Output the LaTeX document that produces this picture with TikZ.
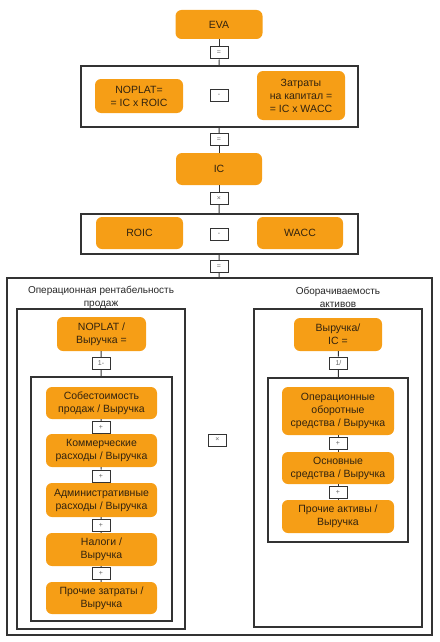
\documentclass[tikz,border=0pt]{standalone}
\usepackage{fontspec}
\setmainfont{Liberation Sans}
\definecolor{evaor}{RGB}{246,158,22}
\definecolor{evatx}{RGB}{50,35,15}
\begin{document}
\begin{tikzpicture}[x=1pt,y=-1pt,obox/.style={rectangle, rounded corners=6pt, fill=evaor, text=evatx, align=center, inner sep=0pt, font=\fontsize{10.5}{13}\selectfont},opb/.style={rectangle, draw=black!80, fill=white, line width=1pt, minimum width=18pt, minimum height=12pt, inner sep=0pt, text=black!60, font=\fontsize{7}{7}\selectfont},frm/.style={rectangle, draw=black!80, line width=1.2pt, inner sep=0pt},ttl/.style={align=center, text=black!85, font=\fontsize{10}{12.5}\selectfont}]
  \useasboundingbox (0,0) rectangle (439,642);

  % top chain
  \node[obox, minimum width=87pt, minimum height=29pt] (eva) at (219,24.5) {EVA};
  \node[opb] (eq1) at (219,53) {=};
  \node[frm, minimum width=277pt, minimum height=61pt] (fr1) at (219.5,96.5) {};
  \node[obox, minimum width=88pt, minimum height=34pt] (noplat) at (139,96) {NOPLAT=\\= IC x ROIC};
  \node[opb] (mi1) at (219,95.5) {-};
  \node[obox, minimum width=88pt, minimum height=49pt] (cost) at (301,95.5) {Затраты\\на капитал =\\= IC x WACC};
  \node[opb] (eq2) at (219,139.5) {=};
  \node[obox, minimum width=86pt, minimum height=32pt] (ic) at (219,169) {IC};
  \node[opb] (ti1) at (219,198.5) {×};
  \node[frm, minimum width=277pt, minimum height=40pt] (fr2) at (219.5,234) {};
  \node[obox, minimum width=87pt, minimum height=32pt] (roic) at (139.5,233) {ROIC};
  \node[opb] (mi2) at (219,234) {-};
  \node[obox, minimum width=86pt, minimum height=32pt] (wacc) at (300,233) {WACC};
  \node[opb] (eq3) at (219,266.5) {=};
  \node[frm, minimum width=425pt, minimum height=357pt] (outer) at (219.5,456.5) {};

  % left column
  \node[ttl] (ltitle) at (101,297.5) {Операционная рентабельность\\продаж};
  \node[frm, minimum width=168pt, minimum height=320pt] (lfr) at (101,469) {};
  \node[obox, minimum width=89pt, minimum height=34pt] (ros) at (101.5,334) {NOPLAT /\\Выручка =};
  \node[opb] (onem) at (101,363.5) {1-};
  \node[frm, minimum width=141pt, minimum height=244pt] (lin) at (101.5,499) {};
  \node[obox, minimum width=111pt, minimum height=32pt] (c1) at (101.5,403) {Собестоимость\\продаж / Выручка};
  \node[opb] (p1) at (101,427.5) {+};
  \node[obox, minimum width=111pt, minimum height=33pt] (c2) at (101.5,450.5) {Коммерческие\\расходы / Выручка};
  \node[opb] (p2) at (101,476) {+};
  \node[obox, minimum width=111pt, minimum height=34pt] (c3) at (101.5,500) {Административные\\расходы / Выручка};
  \node[opb] (p3) at (101,525.5) {+};
  \node[obox, minimum width=111pt, minimum height=33pt] (c4) at (101.5,549.5) {Налоги /\\Выручка};
  \node[opb] (p4) at (101,573.5) {+};
  \node[obox, minimum width=111pt, minimum height=32pt] (c5) at (101.5,598) {Прочие затраты /\\Выручка};

  \node[opb] (ti2) at (217.5,440) {×};

  % right column
  \node[ttl] (rtitle) at (338,297.5) {Оборачиваемость\\активов};
  \node[frm, minimum width=168pt, minimum height=318pt] (rfr) at (338,468) {};
  \node[obox, minimum width=88pt, minimum height=33pt] (turn) at (338,334.5) {Выручка/\\IC =};
  \node[opb] (oneo) at (338.5,363) {1/};
  \node[frm, minimum width=140pt, minimum height=164pt] (rin) at (338,460) {};
  \node[obox, minimum width=112pt, minimum height=48pt] (a1) at (338,411) {Операционные\\оборотные\\средства / Выручка};
  \node[opb] (q1) at (338,443) {+};
  \node[obox, minimum width=112pt, minimum height=32pt] (a2) at (338,468) {Основные\\средства / Выручка};
  \node[opb] (q2) at (338,492) {+};
  \node[obox, minimum width=112pt, minimum height=33pt] (a3) at (338,516.5) {Прочие активы /\\Выручка};

    \draw[black!80, line width=1pt] (eva) -- (eq1);
    \draw[black!80, line width=1pt] (eq1) -- (fr1);
    \draw[black!80, line width=1pt] (fr1) -- (eq2);
    \draw[black!80, line width=1pt] (eq2) -- (ic);
    \draw[black!80, line width=1pt] (ic) -- (ti1);
    \draw[black!80, line width=1pt] (ti1) -- (fr2);
    \draw[black!80, line width=1pt] (fr2) -- (eq3);
    \draw[black!80, line width=1pt] (eq3) -- (outer);

    \draw[black!80, line width=1pt] (ros) -- (onem);
    \draw[black!80, line width=1pt] (onem) -- (lin);
    \draw[black!80, line width=1pt] (c1) -- (p1);
    \draw[black!80, line width=1pt] (p1) -- (c2);
    \draw[black!80, line width=1pt] (c2) -- (p2);
    \draw[black!80, line width=1pt] (p2) -- (c3);
    \draw[black!80, line width=1pt] (c3) -- (p3);
    \draw[black!80, line width=1pt] (p3) -- (c4);
    \draw[black!80, line width=1pt] (c4) -- (p4);
    \draw[black!80, line width=1pt] (p4) -- (c5);

    \draw[black!80, line width=1pt] (turn) -- (oneo);
    \draw[black!80, line width=1pt] (oneo) -- (rin);
    \draw[black!80, line width=1pt] (a1) -- (q1);
    \draw[black!80, line width=1pt] (q1) -- (a2);
    \draw[black!80, line width=1pt] (a2) -- (q2);
    \draw[black!80, line width=1pt] (q2) -- (a3);

\end{tikzpicture}
\end{document}
